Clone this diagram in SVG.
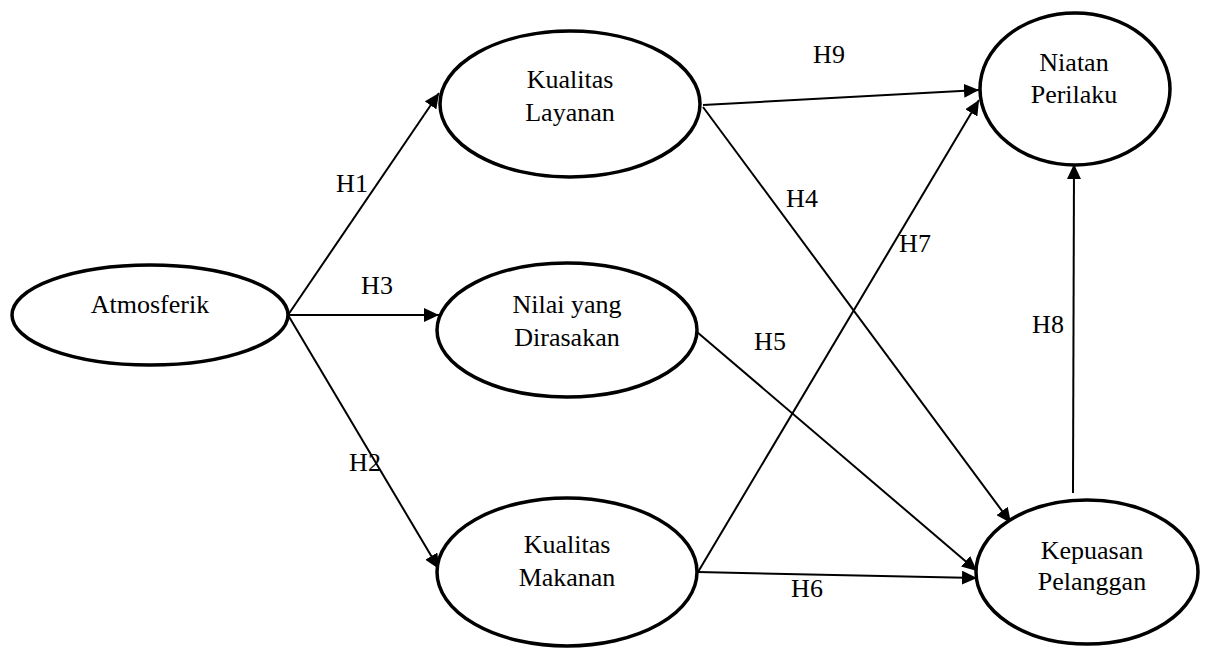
<svg xmlns="http://www.w3.org/2000/svg" width="1207" height="651" viewBox="0 0 1207 651">
<style>
.node{fill:#fff;stroke:#000;stroke-width:3.5}
.t{font-family:'Liberation Serif','Times New Roman',Times,'DejaVu Serif',serif;font-size:26px;fill:#000;text-anchor:middle}
.c{stroke:#000;stroke-width:2;fill:none;marker-end:url(#ah)}
</style>
<defs>
<marker id="ah" markerUnits="userSpaceOnUse" markerWidth="16" markerHeight="14" refX="15" refY="7" orient="auto">
<path d="M0,0 L15,7 L0,14 z" fill="#000"/>
</marker>
</defs>
<rect width="1207" height="651" fill="#fff"/>
<g id="connectors">
<line class="c" x1="288" y1="315" x2="439" y2="93"/>
<line class="c" x1="288" y1="315" x2="439" y2="315"/>
<line class="c" x1="288" y1="315" x2="439" y2="569"/>
<line class="c" x1="703" y1="105" x2="979" y2="90"/>
<line class="c" x1="703" y1="107" x2="1011" y2="523"/>
<line class="c" x1="697" y1="332" x2="977" y2="571"/>
<line class="c" x1="698" y1="572" x2="979" y2="100"/>
<line class="c" x1="698" y1="572" x2="977" y2="578"/>
<line class="c" x1="1073" y1="493" x2="1074" y2="164"/>
<text class="t" x="352" y="192" font-family="Liberation Serif, serif">H1</text>
<text class="t" x="377" y="294" font-family="Liberation Serif, serif">H3</text>
<text class="t" x="365" y="471" font-family="Liberation Serif, serif">H2</text>
<text class="t" x="829" y="63" font-family="Liberation Serif, serif">H9</text>
<text class="t" x="802" y="207" font-family="Liberation Serif, serif">H4</text>
<text class="t" x="915" y="252" font-family="Liberation Serif, serif">H7</text>
<text class="t" x="770" y="350" font-family="Liberation Serif, serif">H5</text>
<text class="t" x="807" y="597" font-family="Liberation Serif, serif">H6</text>
<text class="t" x="1048" y="333" font-family="Liberation Serif, serif">H8</text>
</g>
<g id="atmosferik">
<ellipse class="node" cx="150" cy="315" rx="138" ry="50"/>
<text class="t" x="150" y="313">Atmosferik</text>
</g>
<g id="kualitas-layanan">
<ellipse class="node" cx="570" cy="104" rx="130" ry="73"/>
<text class="t" x="570" y="88">Kualitas</text>
<text class="t" x="570" y="121">Layanan</text>
</g>
<g id="nilai-yang-dirasakan">
<ellipse class="node" cx="567" cy="330" rx="130" ry="67"/>
<text class="t" x="567" y="313">Nilai yang</text>
<text class="t" x="567" y="346">Dirasakan</text>
</g>
<g id="kualitas-makanan">
<ellipse class="node" cx="567" cy="572" rx="130" ry="74"/>
<text class="t" x="567" y="553">Kualitas</text>
<text class="t" x="567" y="586">Makanan</text>
</g>
<g id="niatan-perilaku">
<ellipse class="node" cx="1075" cy="89" rx="95" ry="76"/>
<text class="t" x="1074" y="71">Niatan</text>
<text class="t" x="1074" y="103">Perilaku</text>
</g>
<g id="kepuasan-pelanggan">
<ellipse class="node" cx="1087" cy="572" rx="111" ry="72"/>
<text class="t" x="1092" y="559">Kepuasan</text>
<text class="t" x="1092" y="590">Pelanggan</text>
</g>
</svg>
